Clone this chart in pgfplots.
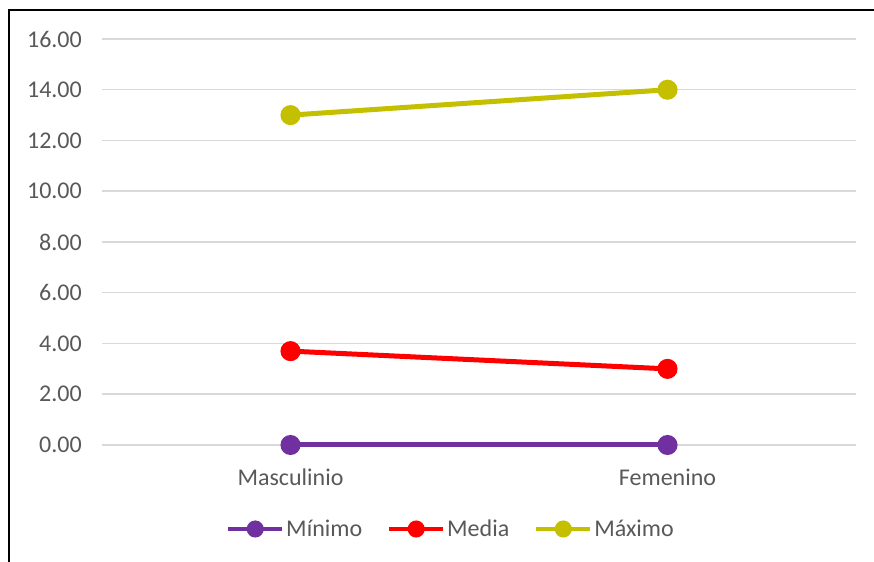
\documentclass[border=0pt]{standalone}
\usepackage{fontspec}
\setmainfont{Carlito}
\usepackage{pgfplots}
\pgfplotsset{compat=1.18}
\definecolor{cmin}{HTML}{7030A0}
\definecolor{cmed}{HTML}{FF0000}
\definecolor{cmax}{HTML}{C4C000}
\definecolor{ctxt}{HTML}{595959}
\definecolor{cgrid}{HTML}{D9D9D9}
\begin{document}
\begin{tikzpicture}
\useasboundingbox (0,0) rectangle (874bp,562bp);
\fill[white] (0,0) rectangle (874bp,562bp);
\draw[line width=2.5bp, black] (9bp,-20bp) -- (9bp,552bp) -- (900bp,552bp);
\begin{axis}[
  at={(102bp,117bp)}, anchor=south west,
  width=754bp, height=406bp, scale only axis,
  xmin=-0.5, xmax=1.5, ymin=0, ymax=16,
  xtick={0,1}, xticklabels={Masculinio, Femenino},
  ytick={0,2,...,16},
  axis line style={draw=none},
  major tick length=0pt,
  ymajorgrids, grid style={cgrid, line width=1.5bp},
  /pgf/number format/assume math mode=true,
  yticklabel={\pgfmathprintnumber[fixed, fixed zerofill, precision=2]{\tick}},
  ticklabel style={font=\fontsize{24bp}{28bp}\selectfont, text=ctxt},
  yticklabel style={anchor=east, inner sep=0pt, xshift=-20bp},
  xticklabel style={anchor=base, inner sep=0pt, yshift=-40bp},
  clip=false,
  legend columns=3,
  legend style={draw=none, fill=none, at={(0.4629,-0.2069)}, anchor=center,
    font=\fontsize{24bp}{28bp}\selectfont, text=ctxt,
    /tikz/every even column/.append style={column sep=23bp},
    nodes={inner sep=2bp}},
  legend image code/.code={
    \draw[#1, line width=4bp, mark=none] (0bp,0bp) -- (54bp,0bp);
    \fill[#1] (27bp,0bp) circle (6bp);
  },
]
\addplot[cmin, line width=5bp, mark=*, mark size=7.5bp, mark options={solid, draw=none}] coordinates {(0,0) (1,0)};
\addlegendentry{Mínimo}
\addplot[cmed, line width=5bp, mark=*, mark size=7.5bp, mark options={solid, draw=none}] coordinates {(0,3.7) (1,3.0)};
\addlegendentry{Media}
\addplot[cmax, line width=5bp, mark=*, mark size=7.5bp, mark options={solid, draw=none}] coordinates {(0,13) (1,14)};
\addlegendentry{Máximo}
\end{axis}
\end{tikzpicture}
\end{document}
